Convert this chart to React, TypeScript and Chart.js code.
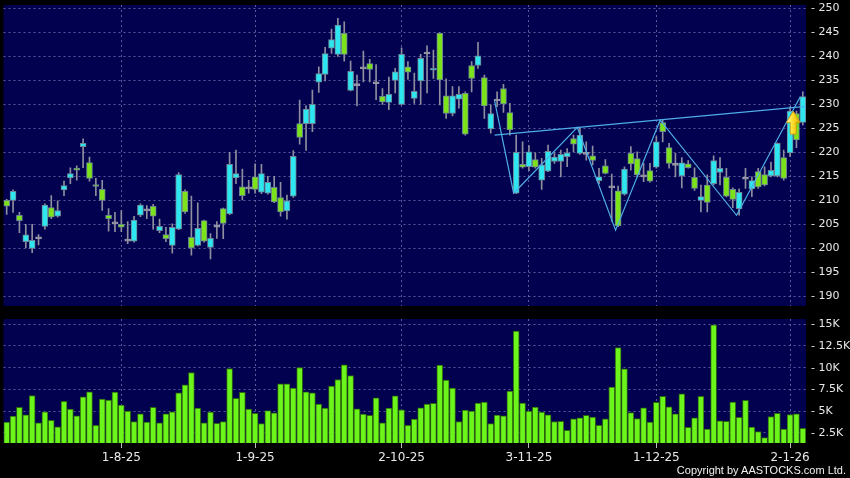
import React, { useEffect, useRef } from 'react';
import { Chart, registerables } from 'chart.js';
Chart.register(...registerables);

// ---- data (126 trading days) ----
const openP = [
  210.0, 210.0, 206.9, 201.4, 200.0, 202.0, 204.6, 208.5, 206.7, 212.2,
  214.7, 216.7, 221.2, 217.9, 213.3, 212.3, 206.9, 205.1, 205.0, 201.5,
  201.5, 206.9, 207.8, 208.75, 203.7, 202.9, 200.6, 204.0, 211.9, 202.3,
  200.6, 205.8, 200.2, 204.4, 208.3, 207.2, 214.7, 212.8, 212.4, 214.9,
  211.7, 211.5, 212.7, 210.6, 207.8, 210.9, 226.0, 226.0, 226.0, 234.6,
  236.25, 241.7, 240.4, 244.8, 232.9, 233.9, 237.4, 238.5, 234.3, 231.7,
  230.4, 235.0, 230.0, 237.8, 231.25, 234.9, 240.5, 237.1, 244.8, 231.8,
  228.1, 231.1, 232.3, 238.1, 238.1, 235.6, 224.9, 230.7, 233.3, 228.3,
  211.5, 217.5, 217.0, 218.5, 214.2, 216.1, 218.1, 218.1, 219.1, 222.9,
  219.8, 219.6, 219.3, 214.1, 217.2, 212.6, 212.0, 211.3, 219.8, 218.7,
  214.9, 216.2, 216.9, 226.2, 221.0, 217.3, 215.1, 217.6, 214.8, 210.0,
  213.2, 213.5, 215.8, 214.8, 212.3, 208.3, 214.4, 212.4, 216.0, 215.4,
  215.1, 215.1, 218.9, 219.9, 228.1, 226.25,
];
const highP = [
  210.2, 212.2, 207.5, 205.0, 205.0, 202.9, 209.3, 211.0, 209.9, 214.0,
  216.8, 217.2, 222.8, 219.0, 214.6, 214.2, 208.3, 207.5, 207.9, 205.6,
  206.7, 209.3, 208.9, 209.2, 206.1, 204.4, 205.1, 215.8, 212.2, 210.9,
  209.5, 205.9, 203.1, 205.6, 208.4, 220.0, 220.5, 216.5, 214.2, 217.6,
  217.5, 215.0, 215.0, 213.75, 211.1, 220.4, 230.9, 229.7, 233.0, 237.8,
  241.9, 245.7, 247.9, 247.2, 239.0, 236.1, 241.1, 239.4, 238.3, 233.3,
  235.7, 237.5, 241.8, 238.9, 236.5, 240.4, 242.2, 241.3, 244.9, 235.3,
  233.7, 233.7, 232.6, 238.9, 242.9, 236.1, 229.9, 232.6, 234.2, 230.2,
  223.6, 222.2, 221.4, 219.9, 218.75, 221.5, 219.9, 220.5, 220.8, 223.6,
  225.2, 222.2, 221.3, 216.7, 218.5, 215.5, 213.0, 217.0, 221.2, 220.1,
  217.7, 217.7, 223.3, 226.7, 221.9, 219.8, 218.9, 218.3, 216.8, 213.2,
  215.3, 219.3, 218.9, 216.7, 212.6, 212.4, 216.7, 214.9, 216.7, 217.0,
  218.0, 222.0, 220.5, 229.5, 228.6, 232.6,
];
const lowP = [
  207.1, 207.5, 203.3, 200.1, 199.1, 200.7, 204.0, 206.2, 206.5, 211.0,
  213.5, 214.2, 216.8, 214.0, 211.0, 207.9, 203.6, 203.5, 203.5, 201.0,
  201.3, 206.6, 206.2, 204.0, 203.3, 201.4, 199.0, 203.9, 207.3, 198.6,
  200.5, 201.3, 197.8, 202.1, 202.0, 207.0, 213.5, 210.1, 211.5, 211.5,
  211.4, 211.3, 209.5, 206.7, 206.1, 210.6, 221.7, 220.4, 224.3, 232.5,
  234.9, 240.6, 240.0, 239.0, 232.8, 229.7, 234.7, 234.7, 231.0, 230.0,
  228.9, 232.4, 229.9, 235.2, 230.2, 230.0, 232.4, 235.4, 229.9, 227.1,
  227.6, 229.2, 223.6, 232.6, 237.5, 227.1, 224.0, 229.5, 228.3, 223.6,
  211.4, 216.7, 216.2, 216.7, 212.3, 216.0, 217.7, 214.9, 217.0, 220.1,
  219.6, 218.4, 217.4, 213.5, 215.5, 205.6, 204.5, 211.1, 216.3, 214.9,
  213.9, 213.8, 216.7, 222.2, 216.7, 214.9, 212.6, 216.7, 212.1, 207.6,
  207.6, 213.2, 213.2, 210.7, 208.5, 206.9, 212.5, 210.8, 212.5, 213.0,
  214.9, 214.9, 214.2, 219.1, 221.0, 225.7,
];
const closeP = [
  208.8, 211.9, 205.8, 202.8, 201.7, 202.0, 209.0, 206.5, 207.9, 213.1,
  215.6, 216.3, 221.9, 214.6, 212.9, 210.0, 206.2, 205.1, 204.4, 201.5,
  205.9, 209.0, 207.8, 206.7, 204.6, 202.0, 204.4, 215.4, 207.6, 200.1,
  204.2, 201.5, 202.1, 204.4, 205.2, 217.5, 215.6, 211.0, 212.4, 212.3,
  215.6, 213.75, 209.7, 207.6, 209.9, 219.2, 223.1, 229.0, 230.0, 236.4,
  240.6, 243.5, 246.5, 240.4, 236.9, 233.9, 237.4, 237.3, 234.3, 230.5,
  232.1, 236.8, 240.4, 236.7, 232.7, 239.6, 240.5, 237.5, 235.1, 228.1,
  231.8, 232.1, 223.8, 235.4, 240.1, 229.7, 228.1, 230.7, 230.1, 224.7,
  220.0, 216.9, 220.1, 216.9, 217.4, 220.2, 219.0, 219.6, 219.9, 221.7,
  223.6, 219.6, 218.3, 214.9, 215.6, 212.6, 204.7, 216.5, 217.6, 215.3,
  214.9, 214.0, 222.2, 224.3, 217.7, 217.3, 217.8, 216.8, 212.5, 210.8,
  209.6, 218.3, 216.7, 210.9, 210.2, 211.7, 214.4, 214.1, 212.8, 213.2,
  216.25, 221.9, 214.6, 228.6, 222.6, 231.6,
];
// volume in thousands of shares
const volumeK = [
  3.76, 4.45, 5.44, 4.6, 6.81, 3.68, 4.94, 3.95, 3.22, 6.13,
  5.25, 4.48, 6.66, 7.24, 3.37, 6.4, 6.28, 7.2, 5.71, 5.02,
  3.8, 4.71, 3.76, 5.44, 3.68, 4.71, 4.94, 7.12, 8.04, 9.45,
  5.37, 3.68, 4.91, 3.6, 3.8, 9.91, 6.47, 7.16, 5.25, 4.75,
  3.57, 5.09, 4.83, 8.15, 8.15, 7.66, 10.02, 7.24, 7.12, 5.83,
  5.37, 7.89, 8.65, 10.33, 9.11, 5.29, 4.68, 4.52, 6.55, 3.68,
  5.37, 6.78, 5.17, 3.37, 4.1, 5.4, 5.83, 5.9, 10.3, 8.58,
  7.66, 3.8, 5.13, 5.02, 5.94, 6.06, 3.57, 4.56, 4.48, 7.32,
  14.2, 5.94, 5.02, 5.48, 4.91, 4.6, 3.8, 3.83, 2.8, 4.14,
  4.25, 4.52, 4.33, 3.37, 4.14, 7.77, 12.32, 9.87, 4.86, 4.17,
  5.4, 3.76, 6.01, 6.7, 5.52, 4.71, 7.01, 3.14, 4.25, 6.7,
  2.96, 14.92, 3.91, 3.83, 6.06, 4.29, 6.24, 3.19, 2.65, 1.96,
  4.4, 4.75, 2.96, 4.63, 4.71, 3.03,
];
const tickIdx = [18, 39, 62, 82, 102, 123];
const tickText = ['1-8-25', '1-9-25', '2-10-25', '3-11-25', '1-12-25', '2-1-26'];
const priceTicks = [190, 195, 200, 205, 210, 215, 220, 225, 230, 235, 240, 245, 250];
const volTicks = [2.5, 5, 7.5, 10, 12.5, 15];
const zigIdx = [77, 80, 90, 96, 103, 115, 125];
const zigVal = [230.8, 211.5, 225.2, 203.8, 226.7, 206.9, 231.6];
const resIdx = [76.6, 125.5];
const resVal = [223.6, 229.6];
const arrowIdx = 123.5;
const arrowTip = 228.6;
const arrowBase = 223.8;

// ---- styles ----
const NAVY = '#010150';
const GRID = 'rgba(120,120,180,0.75)';
const CYAN = '#2de6f0';
const GREEN = '#7ce31a';
const DOJI = '#9a9aa8';
const WICK = '#8e8e9e';
const EDGE = '#6c8494';
const LINE = '#4eaee6';
const TXT = '#e8e8e8';
const FONT = 'DejaVu Sans';
const PATTERN_SHIFT = -0.4;
const N = openP.length;

const bgPlugin = {
  id: 'bg',
  beforeDraw(chart: any) {
    const { ctx, chartArea: a } = chart;
    ctx.save();
    ctx.fillStyle = '#000000';
    ctx.fillRect(0, 0, chart.width, chart.height);
    ctx.fillStyle = NAVY;
    ctx.fillRect(a.left, a.top, a.right - a.left, a.bottom - a.top);
    ctx.restore();
  },
};

const arrowPlugin = {
  id: 'arrow',
  afterDatasetsDraw(chart: any) {
    const { ctx } = chart;
    const x = chart.scales.x.getPixelForValue(arrowIdx);
    const yTip = chart.scales.y.getPixelForValue(arrowTip);
    const yBase = chart.scales.y.getPixelForValue(arrowBase);
    const headH = (yBase - yTip) * 0.5;
    const hw = 7;
    const sw = 3;
    ctx.save();
    const g = ctx.createLinearGradient(x - hw, 0, x + hw, 0);
    g.addColorStop(0, '#fffbb0');
    g.addColorStop(0.45, '#ffe030');
    g.addColorStop(1, '#e0a800');
    ctx.fillStyle = g;
    ctx.strokeStyle = '#c99300';
    ctx.lineWidth = 0.8;
    ctx.beginPath();
    ctx.moveTo(x, yTip);
    ctx.lineTo(x + hw, yTip + headH);
    ctx.lineTo(x + sw, yTip + headH);
    ctx.lineTo(x + sw, yBase);
    ctx.lineTo(x - sw, yBase);
    ctx.lineTo(x - sw, yTip + headH);
    ctx.lineTo(x - hw, yTip + headH);
    ctx.closePath();
    ctx.fill();
    ctx.stroke();
    ctx.restore();
  },
};

const candleColor = (i: number) =>
  closeP[i] > openP[i] ? CYAN : closeP[i] < openP[i] ? GREEN : DOJI;

function xScale(showLabels: boolean, height: number) {
  return {
    type: 'linear' as const,
    min: -0.5,
    max: N - 0.5,
    offset: false,
    afterBuildTicks: (s: any) => {
      s.ticks = tickIdx.map((v) => ({ value: v }));
    },
    afterFit: (s: any) => {
      s.height = height;
      s.paddingLeft = 0;
      s.paddingRight = 0;
    },
    border: { display: false, dash: [2, 3] },
    grid: {
      offset: false,
      color: GRID,
      lineWidth: 1,
      drawTicks: showLabels,
      tickLength: 5,
      tickColor: '#bbbbbb',
      tickBorderDash: [1, 0],
    },
    ticks: {
      display: showLabels,
      autoSkip: false,
      maxRotation: 0,
      padding: 3,
      color: TXT,
      font: { family: FONT, size: 12 },
      callback: (v: any) => {
        const k = tickIdx.indexOf(Math.round(Number(v)));
        return k >= 0 ? tickText[k] : '';
      },
    },
  };
}

function yScale(min: number, max: number, ticks: number[], fmt: (v: number) => string) {
  return {
    position: 'right' as const,
    min,
    max,
    afterBuildTicks: (s: any) => {
      s.ticks = ticks.map((v) => ({ value: v }));
    },
    afterFit: (s: any) => {
      s.width = 44;
      s.paddingTop = 0;
      s.paddingBottom = 0;
    },
    border: { display: false, dash: [2, 3] },
    grid: { color: GRID, lineWidth: 1, drawTicks: false },
    ticks: {
      padding: 5,
      color: TXT,
      font: { family: FONT, size: 11 },
      callback: (v: any) => '- ' + fmt(Number(v)),
    },
  };
}

export default function App() {
  const priceRef = useRef<HTMLCanvasElement>(null);
  const volRef = useRef<HTMLCanvasElement>(null);

  useEffect(() => {
    document.body.style.margin = '0';
    document.body.style.background = '#000';
    const idx = openP.map((_, i) => i);

    const price = new Chart(priceRef.current!, {
      type: 'bar',
      data: {
        datasets: [
          {
            type: 'line',
            data: zigIdx.map((v, k) => ({ x: v + PATTERN_SHIFT, y: zigVal[k] })),
            borderColor: LINE,
            borderWidth: 1.2,
            pointRadius: 0,
            order: 0,
          } as any,
          {
            type: 'line',
            data: resIdx.map((v, k) => ({ x: v, y: resVal[k] })),
            borderColor: LINE,
            borderWidth: 1.2,
            pointRadius: 0,
            order: 0,
          } as any,
          {
            data: idx.map((i) => ({ x: i, y: [openP[i], closeP[i]] })),
            backgroundColor: idx.map(candleColor),
            borderColor: idx.map((i) => (closeP[i] === openP[i] ? DOJI : EDGE)),
            borderWidth: 1,
            borderSkipped: false,
            barThickness: 6,
            minBarLength: 2,
            grouped: false,
            order: 1,
          } as any,
          {
            data: idx.map((i) => ({ x: i, y: [lowP[i], highP[i]] })),
            backgroundColor: WICK,
            barThickness: 1,
            grouped: false,
            order: 2,
          } as any,
        ],
      },
      options: {
        responsive: false,
        animation: false,
        devicePixelRatio: 1,
        layout: { padding: { top: 5, bottom: 6, left: 3.5, right: 0 } },
        plugins: { legend: { display: false }, tooltip: { enabled: false } },
        scales: {
          x: xScale(false, 0) as any,
          y: yScale(188, 250.7, priceTicks, (v) => String(v)) as any,
        },
      },
      plugins: [bgPlugin, arrowPlugin],
    });

    const vol = new Chart(volRef.current!, {
      type: 'bar',
      data: {
        datasets: [
          {
            data: idx.map((i) => ({ x: i, y: volumeK[i] })),
            backgroundColor: '#6cf51b',
            borderColor: '#2c6410',
            borderWidth: 1,
            borderSkipped: false,
            barThickness: 6,
          } as any,
        ],
      },
      options: {
        responsive: false,
        animation: false,
        devicePixelRatio: 1,
        layout: { padding: { top: 7, bottom: 0, left: 3.5, right: 0 } },
        plugins: { legend: { display: false }, tooltip: { enabled: false } },
        scales: {
          x: xScale(true, 35) as any,
          y: yScale(1.35, 15.6, volTicks, (v) => v + 'K') as any,
        },
      },
      plugins: [bgPlugin],
    });

    return () => {
      price.destroy();
      vol.destroy();
    };
  }, []);

  return (
    <div style={{ position: 'absolute', left: 0, top: 0, width: 850, height: 478, background: '#000', overflow: 'hidden' }}>
      <canvas ref={priceRef} width={850} height={312} style={{ position: 'absolute', left: 0, top: 0 }} />
      <canvas ref={volRef} width={850} height={166} style={{ position: 'absolute', left: 0, top: 312 }} />
      <div
        style={{
          position: 'absolute',
          right: 4,
          top: 463,
          color: '#f2f2f2',
          fontFamily: 'Liberation Sans, Arial, sans-serif',
          fontSize: 11,
          lineHeight: '14px',
          whiteSpace: 'nowrap',
        }}
      >
        Copyright by AASTOCKS.com Ltd.
      </div>
    </div>
  );
}
